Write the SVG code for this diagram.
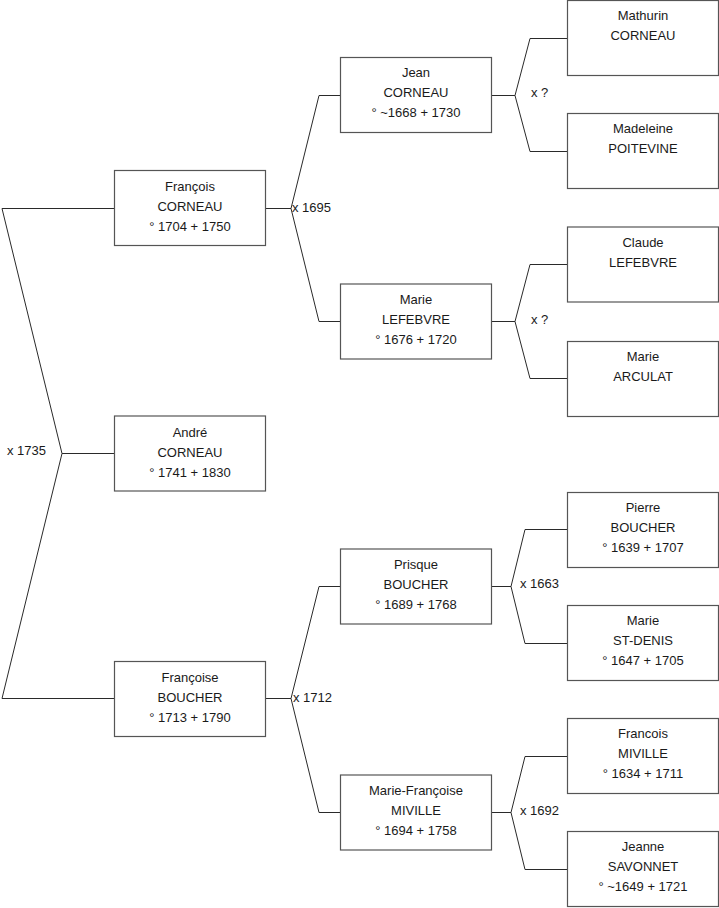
<svg xmlns="http://www.w3.org/2000/svg" width="719" height="908" viewBox="0 0 719 908">
<style>
.box{fill:#fff;stroke:#555;stroke-width:1.2}
.t{font-family:"Liberation Sans",Arial,sans-serif;font-size:13px;fill:#1a1a1a;text-anchor:middle}
.l{font-family:"Liberation Sans",Arial,sans-serif;font-size:13px;fill:#1a1a1a}
.c{fill:none;stroke:#2a2a2a;stroke-width:1}
</style>
<rect width="719" height="908" fill="#fff"/>
<g id="connectors">
<path class="c" d="M114 208.5 H2 L62 453.5 L2 698.5 H114 M62 453.5 H114"/>
<path class="c" d="M340 95.5 H319 L291 208.5 L319 321.5 H340 M265 208.5 H291"/>
<path class="c" d="M340 586.5 H319 L291 698.5 L319 812.5 H340 M265 698.5 H291"/>
<path class="c" d="M567 38.5 H530 L515 95.5 L530 151.5 H567 M491 95.5 H515"/>
<path class="c" d="M567 264.5 H530 L515 321.5 L530 378.5 H567 M491 321.5 H515"/>
<path class="c" d="M567 529.5 H525 L511 586.5 L525 643.5 H567 M491 586.5 H511"/>
<path class="c" d="M567 756.5 H525 L511 812.5 L525 869.5 H567 M491 812.5 H511"/>
<text class="l" x="7" y="455">x 1735</text>
<text class="l" x="292" y="212">x 1695</text>
<text class="l" x="293" y="702">x 1712</text>
<text class="l" x="531" y="97">x ?</text>
<text class="l" x="531" y="324">x ?</text>
<text class="l" x="520" y="588">x 1663</text>
<text class="l" x="520" y="815">x 1692</text>
</g>
<g id="francois-corneau"><rect class="box" x="114.5" y="170.5" width="151" height="75"/><text class="t" x="190" y="191">François</text><text class="t" x="190" y="211">CORNEAU</text><text class="t" x="190" y="231">° 1704 + 1750</text></g>
<g id="andre-corneau"><rect class="box" x="114.5" y="416" width="151" height="75"/><text class="t" x="190" y="437">André</text><text class="t" x="190" y="457">CORNEAU</text><text class="t" x="190" y="477">° 1741 + 1830</text></g>
<g id="francoise-boucher"><rect class="box" x="114.5" y="661.5" width="151" height="75"/><text class="t" x="190" y="682">Françoise</text><text class="t" x="190" y="702">BOUCHER</text><text class="t" x="190" y="722">° 1713 + 1790</text></g>
<g id="jean-corneau"><rect class="box" x="340.5" y="57.5" width="151" height="75"/><text class="t" x="416" y="77">Jean</text><text class="t" x="416" y="97">CORNEAU</text><text class="t" x="416" y="117">° ~1668 + 1730</text></g>
<g id="marie-lefebvre"><rect class="box" x="340.5" y="284" width="151" height="75"/><text class="t" x="416" y="304">Marie</text><text class="t" x="416" y="324">LEFEBVRE</text><text class="t" x="416" y="344">° 1676 + 1720</text></g>
<g id="prisque-boucher"><rect class="box" x="340.5" y="549" width="151" height="75"/><text class="t" x="416" y="569">Prisque</text><text class="t" x="416" y="589">BOUCHER</text><text class="t" x="416" y="609">° 1689 + 1768</text></g>
<g id="marie-francoise-miville"><rect class="box" x="340.5" y="775" width="151" height="75"/><text class="t" x="416" y="795">Marie-Françoise</text><text class="t" x="416" y="815">MIVILLE</text><text class="t" x="416" y="835">° 1694 + 1758</text></g>
<g id="mathurin-corneau"><rect class="box" x="567.5" y="0.5" width="151" height="75"/><text class="t" x="643" y="20">Mathurin</text><text class="t" x="643" y="40">CORNEAU</text></g>
<g id="madeleine-poitevine"><rect class="box" x="567.5" y="113.5" width="151" height="75"/><text class="t" x="643" y="133">Madeleine</text><text class="t" x="643" y="153">POITEVINE</text></g>
<g id="claude-lefebvre"><rect class="box" x="567.5" y="227" width="151" height="75"/><text class="t" x="643" y="247">Claude</text><text class="t" x="643" y="267">LEFEBVRE</text></g>
<g id="marie-arculat"><rect class="box" x="567.5" y="341.5" width="151" height="75"/><text class="t" x="643" y="361">Marie</text><text class="t" x="643" y="381">ARCULAT</text></g>
<g id="pierre-boucher"><rect class="box" x="567.5" y="492.5" width="151" height="75"/><text class="t" x="643" y="512">Pierre</text><text class="t" x="643" y="532">BOUCHER</text><text class="t" x="643" y="552">° 1639 + 1707</text></g>
<g id="marie-st-denis"><rect class="box" x="567.5" y="605.5" width="151" height="75"/><text class="t" x="643" y="625">Marie</text><text class="t" x="643" y="645">ST-DENIS</text><text class="t" x="643" y="665">° 1647 + 1705</text></g>
<g id="francois-miville"><rect class="box" x="567.5" y="718.5" width="151" height="75"/><text class="t" x="643" y="738">Francois</text><text class="t" x="643" y="758">MIVILLE</text><text class="t" x="643" y="778">° 1634 + 1711</text></g>
<g id="jeanne-savonnet"><rect class="box" x="567.5" y="831.5" width="151" height="75"/><text class="t" x="643" y="851">Jeanne</text><text class="t" x="643" y="871">SAVONNET</text><text class="t" x="643" y="891">° ~1649 + 1721</text></g>
</svg>
